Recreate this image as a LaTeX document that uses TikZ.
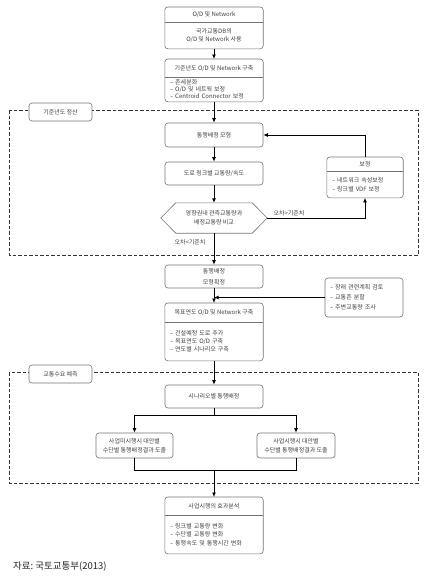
\documentclass[tikz,border=0pt]{standalone}
\usepackage{fontspec}
\setmainfont{Noto Sans CJK KR}
\usetikzlibrary{arrows.meta}

\begin{document}
\begin{tikzpicture}[x=1pt,y=-1pt,
    txt/.style={font=\fontsize{6}{7.5}\selectfont, text=black!75, inner sep=0pt},
    box/.style={txt, draw=black!55, line width=0.6pt, rounded corners=3pt, minimum width=98, align=center},
    part/.style={txt, minimum width=98, align=center},
    list/.style={txt, text width=88, inner xsep=5pt, align=left},
    frame/.style={draw=black!55, line width=0.6pt, rounded corners=3pt},
    zone/.style={draw=black!80, line width=1pt, dash pattern=on 3.5pt off 2pt},
    tag/.style={box, minimum width=63, minimum height=18, fill=white},
    link/.style={line width=1pt, -{Latex[length=4.5pt,width=4pt]}},
    line/.style={line width=1pt}]
    \useasboundingbox (0,0) rectangle (434,584);

    \draw[zone] (9,110) rectangle (418,255);
    \node[tag] (zoneA) at (60.5,112) {기준년도 정산};
    \draw[zone] (9,372) rectangle (418,483);
    \node[tag] (zoneB) at (60.5,374) {교통수요 예측};

    \node[part, minimum height=15, anchor=north] (od) at (214,7) {O/D 및 Network};
    \node[part, minimum height=26, anchor=north] (odb) at (od.south) {국가교통DB의\\O/D 및 Network 사용};
    \draw[frame] (od.north west) rectangle (odb.south east);
    \draw[frame] (od.south west) -- (od.south east);

    \node[part, minimum height=18, anchor=north] (base) at (214,59) {기준년도 O/D 및 Network 구축};
    \node[list, font=\fontsize{6}{7}\selectfont, minimum height=24, anchor=north] (baseb) at (base.south) {-- 존세분화\\-- O/D 및 네트웍 보정\\-- Centroid Connector 보정};
    \draw[frame] (base.north west) rectangle (baseb.south east);
    \draw[frame] (base.south west) -- (base.south east);

    \node[box, minimum height=24] (assign) at (214,135) {통행배정 모형};
    \node[box, minimum height=23] (road) at (214,173.5) {도로 링크별 교통량/속도};

    \node[txt, minimum width=106, minimum height=30, align=center, font=\fontsize{6}{9}\selectfont] (cmp) at (214,218) {영향권내 관측교통량과\\배정교통량 비교};
    \draw[draw=black!55, line width=0.6pt] (cmp.west) -- ([xshift=15pt]cmp.north west) -- ([xshift=-15pt]cmp.north east)
        -- (cmp.east) -- ([xshift=-15pt]cmp.south east) -- ([xshift=15pt]cmp.south west) -- cycle;

    \node[txt, minimum width=76, minimum height=14, anchor=north] (fix) at (365,157) {보정};
    \node[list, text width=66, font=\fontsize{6}{9}\selectfont, minimum height=26, anchor=north] (fixb) at (fix.south) {-- 네트워크 속성보정\\-- 링크별 VDF 보정};
    \draw[frame] (fix.north west) rectangle (fixb.south east);
    \draw[frame] (fix.south west) -- (fix.south east);

    \node[box, minimum height=23, font=\fontsize{6}{10.5}\selectfont] (final) at (214,276.5) {통행배정\\모형확정};
    \node[box, minimum width=78, minimum height=39, text width=68, inner xsep=5pt, align=left, font=\fontsize{6}{10}\selectfont] (survey) at (364,297.5) {-- 장래 관련계획 검토\\-- 교통존 분할\\-- 주변교통량 조사};

    \node[part, minimum height=19, anchor=north] (target) at (214,303) {목표연도 O/D 및 Network 구축};
    \node[list, font=\fontsize{6}{8}\selectfont, minimum height=38, anchor=north] (targetb) at (target.south) {-- 건설예정 도로 추가\\-- 목표연도 O/D 구축\\-- 연도별 시나리오 구축};
    \draw[frame] (target.north west) rectangle (targetb.south east);
    \draw[frame] (target.south west) -- (target.south east);

    \node[box, minimum height=23] (scen) at (214,396.5) {시나리오별 통행배정};
    \node[box, minimum width=77, minimum height=25, font=\fontsize{6}{9.5}\selectfont] (altA) at (134.5,445.5) {사업미시행시 대안별\\수단별 통행배정결과 도출};
    \node[box, minimum width=78, minimum height=25, font=\fontsize{6}{9.5}\selectfont] (altB) at (296,445.5) {사업시행시 대안별\\수단별 통행배정결과 도출};

    \node[part, minimum height=18, anchor=north] (effect) at (214,497) {사업시행의 효과분석};
    \node[list, font=\fontsize{6}{8.5}\selectfont, minimum height=38, anchor=north] (effectb) at (effect.south) {-- 링크별 교통량 변화\\-- 수단별 교통량 변화\\-- 통행속도 및 통행시간 변화};
    \draw[frame] (effect.north west) rectangle (effectb.south east);
    \draw[frame] (effect.south west) -- (effect.south east);

    \node[txt, anchor=west, font=\fontsize{9.5}{11}\selectfont, text=black!85] (src) at (13,566) {자료:\ 국토교통부(2013)};

    \coordinate (fork) at (214,415);
    \coordinate (join) at (214,470);

    \draw[link] (odb.south) -- (base.north);
    \draw[link] (baseb.south) -- (assign.north);
    \draw[link] (assign) -- (road);
    \draw[link] (road) -- (cmp.north);
    \draw[link] (cmp.east) -| node[txt, pos=0.03, above right, yshift=2pt] {오차>기준치} (fixb.south);
    \draw[link] (fix.north) |- (assign.east);
    \draw[link] (cmp.south) -- node[txt, pos=0.3, left, xshift=-8pt] {오차<기준치} (final.north);
    \draw[link] (final) -- (target);
    \draw[link] (survey.west) -- (final.south |- survey.west);
    \draw[link] (targetb.south) -- (scen.north);
    \draw[line] (scen.south) -- (fork);
    \draw[link] (fork) -| (altA.north);
    \draw[link] (fork) -| (altB.north);
    \draw[line] (altA.south) |- (join);
    \draw[line] (altB.south) |- (join);
    \draw[link] (join) -- (effect.north);
\end{tikzpicture}
\end{document}
